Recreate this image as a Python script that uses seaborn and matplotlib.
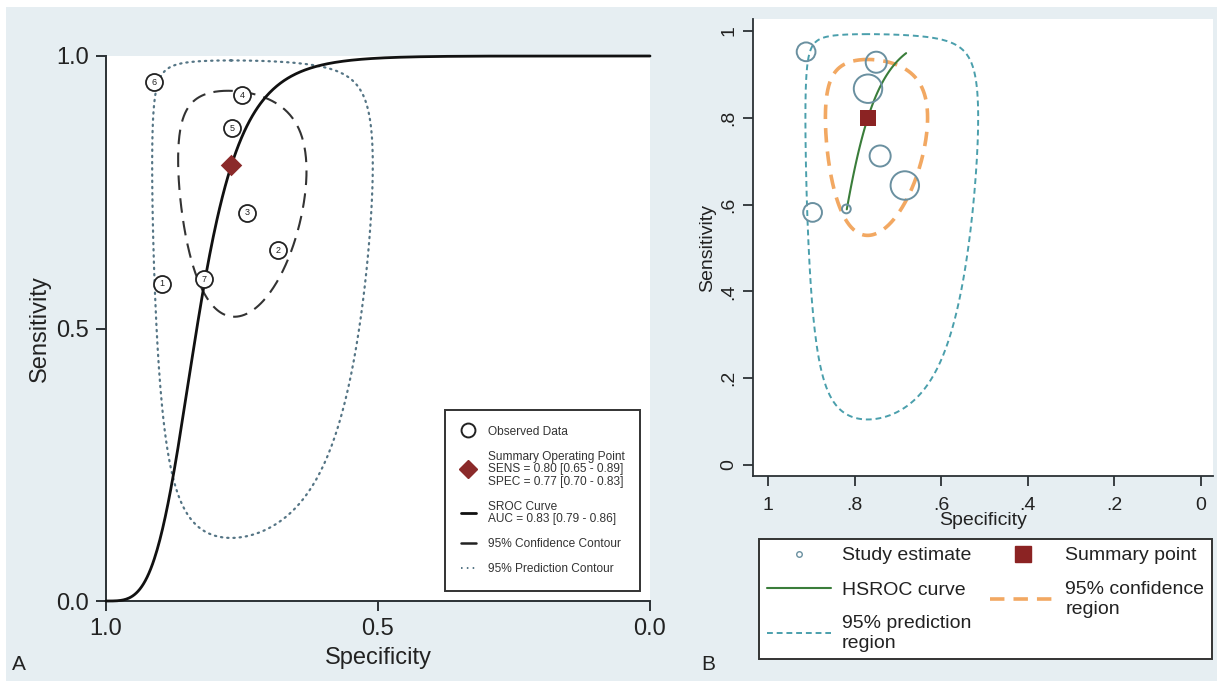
import numpy as np
import pandas as pd
import matplotlib
matplotlib.use("Agg")
import matplotlib.pyplot as plt
import seaborn as sns
from matplotlib.lines import Line2D
from matplotlib.patches import Rectangle

# ---------------- data ----------------
study = [1, 2, 3, 4, 5, 6, 7]
spec = [0.897, 0.684, 0.741, 0.750, 0.769, 0.912, 0.819]
sens = [0.582, 0.644, 0.712, 0.928, 0.867, 0.952, 0.590]
weight = [7, 12, 8, 8, 12, 7, 4]          # relative symbol radius, panel B

summary_spec = 0.77
summary_sens = 0.80

# SROC / HSROC model: logit(sens) = alpha + beta * logit(1 - spec)
sroc_alpha = 5.53
sroc_beta = 3.44
hsroc_spec_range = [0.681, 0.818]

# elliptical regions in logit space: half-extent in logit(sens), logit(spec), correlation
conf_A = dict(ds=1.30, dp=0.67, rho=0.05)
pred_A = dict(ds=3.42, dp=1.17, rho=0.0)
conf_B = dict(ds=1.27, dp=0.67, rho=0.0)
pred_B = dict(ds=3.53, dp=1.15, rho=0.0)

xticks_A = [1.0, 0.5, 0.0]
xticklabels_A = ["1.0", "0.5", "0.0"]
yticks_A = [0.0, 0.5, 1.0]
yticklabels_A = ["0.0", "0.5", "1.0"]
ticks_B = [1, 0.8, 0.6, 0.4, 0.2, 0]
ticklabels_B = ["1", ".8", ".6", ".4", ".2", "0"]

legend_A = ["Observed Data",
            "Summary Operating Point\nSENS = 0.80 [0.65 - 0.89]\nSPEC = 0.77 [0.70 - 0.83]",
            "SROC Curve\nAUC = 0.83 [0.79 - 0.86]",
            "95% Confidence Contour",
            "95% Prediction Contour"]
legend_B = ["Study estimate", "HSROC curve", "95% prediction\nregion",
            "Summary point", "95% confidence\nregion"]

# ---------------- helpers ----------------
def logit(p):
    p = np.asarray(p, float)
    return np.log(p / (1 - p))

def expit(x):
    return 1 / (1 + np.exp(-x))

def region(cs, cp, ds, dp, rho, n=360):
    t = np.linspace(0, 2 * np.pi, n)
    ls = logit(cs) + ds * np.cos(t)
    lp = logit(cp) + dp * (rho * np.cos(t) + np.sqrt(1 - rho ** 2) * np.sin(t))
    return pd.DataFrame({"spec": expit(lp), "sens": expit(ls), "o": np.arange(n)})

def sroc(spec_vals):
    fpr = 1 - np.asarray(spec_vals)
    return expit(sroc_alpha + sroc_beta * logit(fpr))

df = pd.DataFrame({"study": study, "spec": spec, "sens": sens, "weight": weight})

sns.set_theme(style="white")
plt.rcParams["font.family"] = ["Liberation Sans", "DejaVu Sans"]
dark = "#2b3135"

fig = plt.figure(figsize=(12.17, 6.81), dpi=100, facecolor="white")
fig.patches.append(Rectangle((6 / 1217, 0), 1, 1 - 7 / 681, transform=fig.transFigure,
                             facecolor="#e6eef2", edgecolor="none", zorder=-10))

# ======================= Panel A =======================
axA = fig.add_axes([106 / 1217, 80 / 681, 544 / 1217, 545 / 681])
axA.set_facecolor("white")

sp_grid = np.linspace(0.0005, 0.9995, 600)
sroc_df = pd.DataFrame({"spec": np.r_[1.0, sp_grid[::-1], 0.0][::-1],
                        "sens": np.r_[0.0, sroc(sp_grid[::-1]), 1.0][::-1]})
sns.lineplot(data=sroc_df, x="spec", y="sens", sort=False, estimator=None,
             color="#111111", lw=2.0, ax=axA, clip_on=False, zorder=4)

pa = region(summary_sens, summary_spec, **pred_A)
sns.lineplot(data=pa, x="spec", y="sens", sort=False, estimator=None,
             color="#557585", lw=1.6, ax=axA, zorder=2)
axA.lines[-1].set_linestyle((0, (0.6, 2.2)))
axA.lines[-1].set_dash_capstyle("round")
ca = region(summary_sens, summary_spec, **conf_A)
sns.lineplot(data=ca, x="spec", y="sens", sort=False, estimator=None,
             color="#333333", lw=1.5, ax=axA, zorder=2)
axA.lines[-1].set_linestyle((0, (7, 4)))

sns.scatterplot(data=df, x="spec", y="sens", s=150, marker="o", facecolor="white",
                edgecolor="#222222", linewidth=1.3, ax=axA, zorder=5)
for _, r in df.iterrows():
    axA.text(r["spec"], r["sens"], str(int(r["study"])), ha="center", va="center",
             fontsize=6.5, color="#222222", zorder=6)
axA.scatter([summary_spec], [summary_sens], marker="D", s=120, color="#8b2a2a",
            zorder=7, linewidths=0)

axA.set_xlim(1, 0)
axA.set_ylim(0, 1)
axA.set_xticks(xticks_A)
axA.set_xticklabels(xticklabels_A)
axA.set_yticks(yticks_A)
axA.set_yticklabels(yticklabels_A)
for s in ["top", "right"]:
    axA.spines[s].set_visible(False)
for s in ["left", "bottom"]:
    axA.spines[s].set_color(dark)
    axA.spines[s].set_linewidth(1.4)
axA.tick_params(axis="both", direction="out", length=7, width=1.4, color=dark,
                labelsize=17, labelcolor="#222222", pad=5, left=True, bottom=True)
axA.set_xlabel("Specificity", fontsize=17, color="#222222", labelpad=5)
axA.set_ylabel("Sensitivity", fontsize=17, color="#222222", labelpad=4)

hA = [Line2D([], [], marker="o", ls="none", mfc="white", mec="#222222", ms=10, mew=1.4),
      Line2D([], [], marker="D", ls="none", color="#8b2a2a", ms=9),
      Line2D([], [], color="#111111", lw=2),
      Line2D([], [], color="#222222", lw=1.8),
      Line2D([], [], color="#557585", lw=1.4, ls=(0, (0.8, 2.2)))]
legA = axA.legend(hA, legend_A, loc="upper left",
                  bbox_to_anchor=((445 - 106) / 544, (601 - 410) / 545),
                  fontsize=8.6, handlelength=1.3, labelspacing=1.1, borderpad=1.3,
                  handletextpad=1.0, frameon=True, fancybox=False, framealpha=1,
                  edgecolor="#333333", borderaxespad=0)
legA.get_frame().set_linewidth(1.4)
for t in legA.get_texts():
    t.set_color("#333333")
    t.set_linespacing(1.05)

# ======================= Panel B =======================
axB = fig.add_axes([753 / 1217, 205 / 681, 460 / 1217, 457 / 681])
axB.set_facecolor("white")

pb = region(summary_sens, summary_spec, **pred_B)
sns.lineplot(data=pb, x="spec", y="sens", sort=False, estimator=None,
             color="#4a9fac", lw=1.4, ax=axB, zorder=2)
axB.lines[-1].set_linestyle((0, (3, 2)))
cb = region(summary_sens, summary_spec, **conf_B)
sns.lineplot(data=cb, x="spec", y="sens", sort=False, estimator=None,
             color="#f2a862", lw=2.6, ax=axB, zorder=3)
axB.lines[-1].set_linestyle((0, (4, 2.5)))

h_sp = np.linspace(hsroc_spec_range[0], hsroc_spec_range[1], 100)
h_df = pd.DataFrame({"spec": h_sp, "sens": sroc(h_sp)})
sns.lineplot(data=h_df, x="spec", y="sens", sort=False, estimator=None,
             color="#3a7d3a", lw=1.5, ax=axB, zorder=4)

sns.scatterplot(data=df, x="spec", y="sens", size="weight", sizes=(40, 420),
                size_norm=(4, 12), marker="o", facecolor="none", edgecolor="#6a90a0",
                linewidth=1.4, ax=axB, zorder=5, legend=False)
axB.scatter([summary_spec], [summary_sens], marker="s", s=130, color="#8b2323",
            zorder=6, linewidths=0)

axB.set_xlim(1.0346, -0.0277)
axB.set_ylim(-0.0253, 1.0276)
axB.set_xticks(ticks_B)
axB.set_xticklabels(ticklabels_B)
axB.set_yticks(ticks_B)
axB.set_yticklabels(ticklabels_B, rotation=90, va="center")
for s in ["top", "right"]:
    axB.spines[s].set_visible(False)
for s in ["left", "bottom"]:
    axB.spines[s].set_color(dark)
    axB.spines[s].set_linewidth(1.3)
axB.tick_params(axis="x", direction="out", length=7, width=1.3, color=dark,
                labelsize=14, labelcolor="#222222", pad=8, bottom=True)
axB.tick_params(axis="y", direction="out", length=7, width=1.3, color=dark,
                labelsize=14, labelcolor="#222222", pad=4, left=True)
axB.set_xlabel("Specificity", fontsize=14, color="#222222", labelpad=-1)
axB.set_ylabel("Sensitivity", fontsize=14, color="#222222", labelpad=3)

hB = [Line2D([], [], marker="o", ls="none", mfc="none", mec="#6a90a0", ms=4, mew=1),
      Line2D([], [], color="#3a7d3a", lw=1.5),
      Line2D([], [], color="#4a9fac", lw=1.4, ls=(0, (3, 2))),
      Line2D([], [], marker="s", ls="none", color="#8b2323", ms=12),
      Line2D([], [], color="#f2a862", lw=2.6, ls=(0, (4, 2.5)))]
legB = fig.legend(hB, legend_B, loc="upper left", ncol=2,
                  bbox_to_anchor=(759 / 1217, 1 - 539 / 681),
                  fontsize=14, handlelength=3.3, labelspacing=0.85, borderpad=0.4,
                  handletextpad=0.55, columnspacing=1.0, frameon=True, fancybox=False,
                  framealpha=1, edgecolor="#333333", borderaxespad=0)
legB.get_frame().set_linewidth(1.4)
for t in legB.get_texts():
    t.set_color("#222222")
    t.set_linespacing(1.2)

fig.text(12 / 1217, 1 - 665 / 681, "A", fontsize=15, color="#222222", va="center", ha="left")
fig.text(701 / 1217, 1 - 665 / 681, "B", fontsize=15, color="#222222", va="center", ha="left")

fig.savefig("out.png", dpi=100, facecolor=fig.get_facecolor())
